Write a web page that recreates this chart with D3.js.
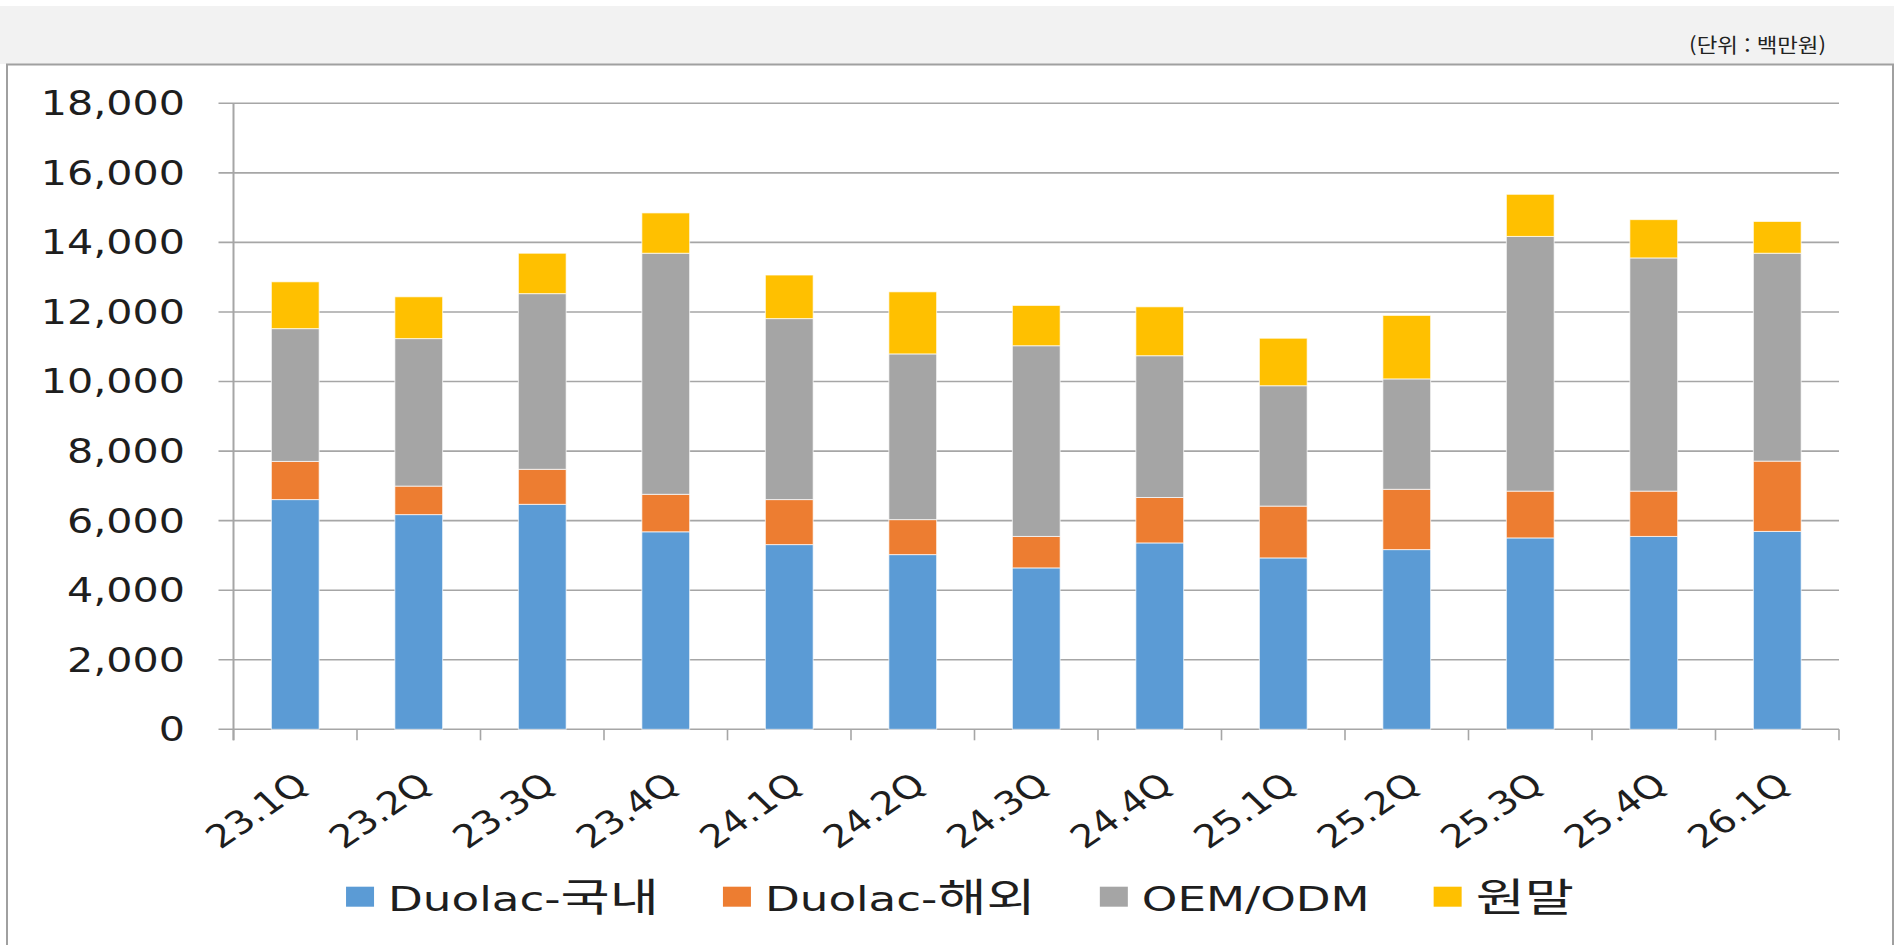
<!DOCTYPE html>
<html lang="ko">
<head>
<meta charset="UTF-8">
<title>Quarterly sales stacked bar</title>
<script src="https://d3js.org/d3.v7.min.js"></script>
<style>
  body { margin: 0; background: #fff; }
  svg { display: block; }
  .lbl { font-family: "DejaVu Sans", Verdana, sans-serif; fill: #1e1e1e; }
  .kr { font-family: "Noto Sans CJK KR", sans-serif; }
</style>
</head>
<body>
<svg width="1899" height="945"></svg>
<script>
// quarters and stacked series (백만원)
const categories = ["23.1Q", "23.2Q", "23.3Q", "23.4Q", "24.1Q", "24.2Q", "24.3Q",
                    "24.4Q", "25.1Q", "25.2Q", "25.3Q", "25.4Q", "26.1Q"];
const duolacDomestic = [6605, 6173, 6469, 5679, 5311, 5023, 4641, 5359, 4928, 5167, 5503, 5546, 5690];
const duolacOverseas = [1098, 820, 1007, 1078, 1294, 1006, 905, 1306, 1490, 1734, 1346, 1303, 2021];
const oemOdm = [3818, 4241, 5051, 6932, 5204, 4765, 5483, 4077, 3461, 3174, 7323, 6705, 5978];
const rawPowder = [1346, 1202, 1162, 1159, 1253, 1785, 1159, 1406, 1366, 1826, 1211, 1101, 914];

const seriesNames = ["Duolac-국내", "Duolac-해외", "OEM/ODM", "원말"];
const seriesColors = ["#5b9bd5", "#ed7d31", "#a5a5a5", "#ffc000"];
const yTicks = [0, 2000, 4000, 6000, 8000, 10000, 12000, 14000, 16000, 18000];
const unitText = "(단위 : 백만원)";

const svg = d3.select("svg");

// header band + frame
svg.append("rect").attr("x", 0).attr("y", 6).attr("width", 1894).attr("height", 58)
  .attr("fill", "#f2f2f2");
svg.append("rect").attr("x", 7).attr("y", 64.5).attr("width", 1886).attr("height", 900)
  .attr("fill", "#fff").attr("stroke", "#a0a0a0").attr("stroke-width", 2);

svg.append("text")
  .attr("class", "kr")
  .attr("transform", "translate(1826,53) scale(1.12,1)")
  .attr("text-anchor", "end")
  .attr("font-size", 20)
  .attr("fill", "#222")
  .text(unitText);

const plot = { left: 233.5, right: 1839, top: 103.3, bottom: 729.3 };

const x = d3.scaleBand().domain(categories).range([plot.left, plot.right]);
const y = d3.scaleLinear().domain([0, 18000]).range([plot.bottom, plot.top]);

const gridColor = "#a6a6a6";

// gridlines (with the little outward tick on the left)
svg.append("g").selectAll("line").data(yTicks).join("line")
  .attr("x1", plot.left - 15).attr("x2", plot.right)
  .attr("y1", d => y(d)).attr("y2", d => y(d))
  .attr("stroke", gridColor).attr("stroke-width", 1.6);

// y tick labels
svg.append("g").selectAll("text").data(yTicks).join("text")
  .attr("class", "lbl")
  .attr("transform", d => `translate(185,${y(d)}) scale(1.25,1)`)
  .attr("dy", "0.36em")
  .attr("text-anchor", "end")
  .attr("font-size", 33)
  .text(d => d3.format(",")(d));

// stacked bars
const rows = categories.map((c, i) => ({
  cat: c, s0: duolacDomestic[i], s1: duolacOverseas[i], s2: oemOdm[i], s3: rawPowder[i]
}));
const stack = d3.stack().keys(["s0", "s1", "s2", "s3"])(rows);
const barW = x.bandwidth() * 0.387;

svg.append("g").selectAll("g").data(stack).join("g")
  .attr("fill", (d, i) => seriesColors[i])
  .selectAll("rect").data(d => d).join("rect")
  .attr("x", d => x(d.data.cat) + (x.bandwidth() - barW) / 2)
  .attr("width", barW)
  .attr("y", d => y(d[1]))
  .attr("height", d => y(d[0]) - y(d[1]))
  .attr("stroke", "#fff").attr("stroke-opacity", 0.7).attr("stroke-width", 1);

// axes lines
svg.append("line")
  .attr("x1", plot.left).attr("x2", plot.left)
  .attr("y1", plot.top).attr("y2", plot.bottom + 11)
  .attr("stroke", gridColor).attr("stroke-width", 2);

const bounds = categories.map(c => x(c)).concat([plot.right]);
svg.append("g").selectAll("line").data(bounds).join("line")
  .attr("x1", d => d).attr("x2", d => d)
  .attr("y1", plot.bottom).attr("y2", plot.bottom + 11)
  .attr("stroke", gridColor).attr("stroke-width", 1.6);

// rotated category labels
svg.append("g").selectAll("text").data(categories).join("text")
  .attr("class", "lbl")
  .attr("transform", d => `translate(${x(d) + x.bandwidth() / 2 + 15},788) scale(1.22,1) rotate(-40)`)
  .attr("text-anchor", "end")
  .attr("font-size", 32)
  .text(d => d);

// legend
const legend = svg.append("g");
const legScale = 1.37;
const items = seriesNames.map((name, i) => {
  const g = legend.append("g");
  g.append("rect").attr("width", 28).attr("height", 20).attr("y", 886.7)
    .attr("fill", seriesColors[i]);
  const t = g.append("text").attr("class", "lbl").attr("font-size", 33);
  // split latin and hangul parts so hangul can be a bit larger
  const parts = name.match(/[\uAC00-\uD7A3]+|[^\uAC00-\uD7A3]+/g);
  parts.forEach(p => {
    const ts = t.append("tspan").text(p);
    if (/[\uAC00-\uD7A3]/.test(p)) ts.attr("class", "kr").attr("font-size", 39);
  });
  const tw = t.node().getComputedTextLength() * legScale;
  return { g, t, tw };
});
const gapSwatch = 42, gapItem = 64;
const total = d3.sum(items, d => gapSwatch + d.tw) + gapItem * (items.length - 1);
let lx = 960 - total / 2;
items.forEach(d => {
  d.g.attr("transform", `translate(${lx},0)`);
  d.t.attr("transform", `translate(${gapSwatch},911) scale(${legScale},1)`);
  lx += gapSwatch + d.tw + gapItem;
});
</script>
</body>
</html>
